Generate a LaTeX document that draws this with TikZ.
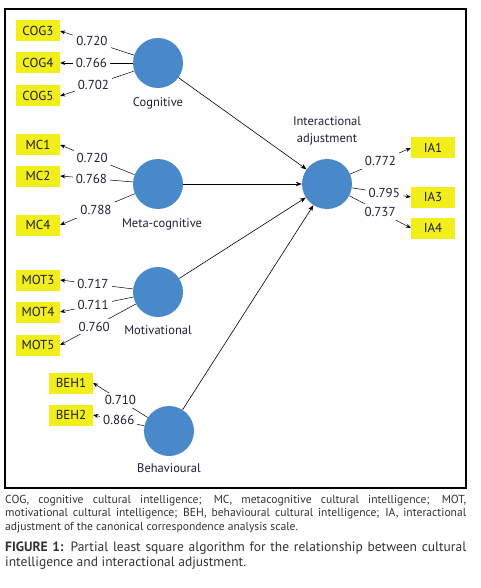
\documentclass[tikz,border=0pt]{standalone}
\usepackage{fontspec}
\setmainfont{PT Sans}
\usetikzlibrary{arrows.meta}
\definecolor{lvblue}{RGB}{74,137,201}
\definecolor{indyellow}{RGB}{242,238,26}
\definecolor{txt}{RGB}{30,30,60}
\definecolor{captxt}{RGB}{50,50,50}
\begin{document}
\begin{tikzpicture}[x=1pt,y=-1pt,
  ind/.style={fill=indyellow,minimum width=44pt,minimum height=21pt,inner sep=0pt,text=txt,font=\fontsize{13}{13}\selectfont},
  lv/.style={circle,fill=lvblue,minimum size=50pt,inner sep=0pt},
  lvlbl/.style={text=txt,font=\fontsize{12.5}{17}\selectfont,align=center},
  wt/.style={fill=white,inner sep=3pt,text=txt,font=\fontsize{13}{13}\selectfont},
  load/.style={-{Stealth[length=5pt,width=4pt]},line width=0.5pt},
  path/.style={-{Stealth[length=6pt,width=4.5pt]},line width=0.6pt}]
\useasboundingbox (0,0) rectangle (480,588);
\draw[line width=1.2pt] (5,9) rectangle (466,488);
% latent variables
\node[lv] (cog) at (158,63) {};
\node[lv] (mc) at (158,184) {};
\node[lv] (mot) at (158,292) {};
\node[lv] (beh) at (169,431) {};
\node[lv] (ia) at (327,184) {};
\node[lvlbl] (cogl) at (158,103) {Cognitive};
\node[lvlbl] (mcl) at (162,224) {Meta-cognitive};
\node[lvlbl] (motl) at (158,330) {Motivational};
\node[lvlbl] (behl) at (169,468) {Behavioural};
\node[lvlbl] (ial) at (327,131) {Interactional\\adjustment};
% indicators
\node[ind] (cog3) at (38,31) {COG3};
\node[ind] (cog4) at (38,63) {COG4};
\node[ind] (cog5) at (38,96) {COG5};
\node[ind] (mc1) at (38,145) {MC1};
\node[ind] (mc2) at (38,176) {MC2};
\node[ind] (mc4) at (38,225) {MC4};
\node[ind] (mot3) at (38,280) {MOT3};
\node[ind] (mot4) at (38,312) {MOT4};
\node[ind] (mot5) at (38,345) {MOT5};
\node[ind] (beh1) at (71,383) {BEH1};
\node[ind] (beh2) at (71,415) {BEH2};
\node[ind] (ia1) at (433,148) {IA1};
\node[ind] (ia3) at (433,197) {IA3};
\node[ind] (ia4) at (433,228) {IA4};
% loadings
\draw[load] (cog) -- node[wt,pos=0.57] {0.720} (cog3.east);
\draw[load] (cog) -- node[wt,pos=0.57] {0.766} (cog4.east);
\draw[load] (cog) -- node[wt,pos=0.55] {0.702} (cog5.east);
\draw[load] (mc) -- node[wt,pos=0.57] {0.720} (mc1.east);
\draw[load] (mc) -- node[wt,pos=0.57] {0.768} (mc2.east);
\draw[load] (mc) -- node[wt,pos=0.52] {0.788} (mc4.east);
\draw[load] (mot) -- node[wt,pos=0.55] {0.717} (mot3.east);
\draw[load] (mot) -- node[wt,pos=0.55] {0.711} (mot4.east);
\draw[load] (mot) -- node[wt,pos=0.55] {0.760} (mot5.east);
\draw[load] (beh) -- node[wt,pos=0.5] {0.710} (beh1.east);
\draw[load] (beh) -- node[wt,pos=0.5] {0.866} (beh2.east);
\draw[load] (ia) -- node[wt,pos=0.5] {0.772} (ia1.west);
\draw[load] (ia) -- node[wt,pos=0.55] {0.795} (ia3.west);
\draw[load] (ia) -- node[wt,pos=0.5] {0.737} (ia4.west);
% structural paths
\draw[path] (cog) -- (ia);
\draw[path] (mc) -- (ia);
\draw[path] (mot) -- (ia);
\draw[path] (beh) -- (ia);
% caption
\node[anchor=north west,inner sep=0pt,text width=461pt,align=justify,text=captxt,
  font=\fontsize{11.6}{13.5}\selectfont] (note) at (5,495)
  {COG, cognitive cultural intelligence; MC, metacognitive cultural intelligence; MOT,\linebreak motivational cultural intelligence; BEH, behavioural cultural intelligence; IA, interactional\linebreak adjustment of the canonical correspondence analysis scale.};
\node[anchor=north west,inner sep=0pt,text width=461pt,align=justify,text=captxt,
  font=\fontsize{13.5}{15}\selectfont] (cap) at (5,542)
  {\textbf{FIGURE 1:} Partial least square algorithm for the relationship between cultural\linebreak intelligence and interactional adjustment.};
\end{tikzpicture}
\end{document}
